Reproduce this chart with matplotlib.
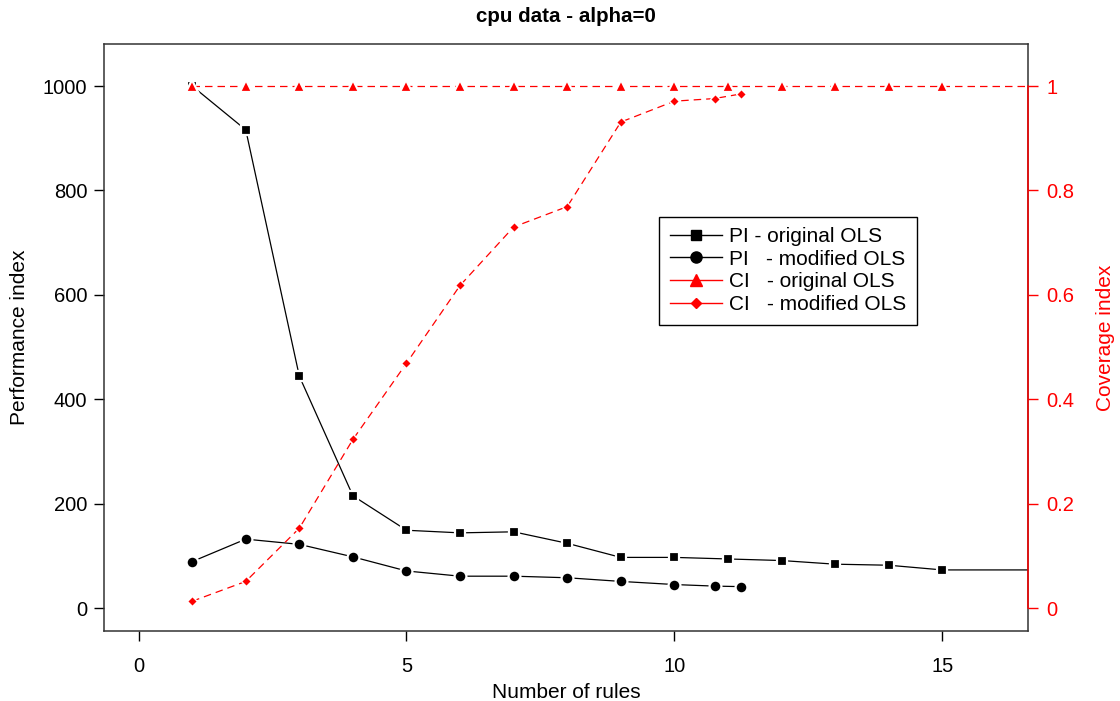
import matplotlib.pyplot as plt
from matplotlib.lines import Line2D

plt.rcParams['font.family'] = ['Liberation Sans', 'DejaVu Sans']

# PI - original OLS (last point lies beyond the visible x range)
x_pi_orig = [1, 2, 3, 4, 5, 6, 7, 8, 9, 10, 11, 12, 13, 14, 15, 20]
pi_orig = [1000, 916, 444, 215, 149, 144, 146, 124, 97, 97, 94, 91, 84, 82, 73, 73]

# PI - modified OLS
x_mod = [1, 2, 3, 4, 5, 6, 7, 8, 9, 10, 10.75, 11.25]
pi_mod = [89, 132, 122, 98, 71, 61, 61, 58, 51, 45, 42, 41]

# CI - original OLS
x_ci_orig = [1, 2, 3, 4, 5, 6, 7, 8, 9, 10, 11, 12, 13, 14, 15, 20]
ci_orig = [1, 1, 1, 1, 1, 1, 1, 1, 1, 1, 1, 1, 1, 1, 1, 1]

# CI - modified OLS
ci_mod = [0.013, 0.051, 0.153, 0.323, 0.469, 0.618, 0.730, 0.769, 0.931, 0.971, 0.976, 0.985]

labels = ['PI - original OLS', 'PI   - modified OLS', 'CI   - original OLS', 'CI   - modified OLS']

fig = plt.figure(figsize=(11.2, 7.01), dpi=100)
ax = fig.add_axes([104 / 1120, 70 / 701, 924 / 1120, 587 / 701])
ax2 = ax.twinx()

dash = (0, (6, 4))
gap = dict(markeredgecolor='white', markeredgewidth=1.6)

ax.plot(x_pi_orig, pi_orig, color='black', lw=0.9, marker='s', ms=7.5,
        markerfacecolor='black', **gap, zorder=3)
ax.plot(x_mod, pi_mod, color='black', lw=0.9, marker='o', ms=8.5,
        markerfacecolor='black', **gap, zorder=3)
ax2.plot(x_ci_orig, ci_orig, color='red', lw=0.9, ls=dash, marker='^', ms=8.5,
         markerfacecolor='red', **gap, zorder=3)
ax2.plot(x_mod, ci_mod, color='red', lw=0.9, ls=dash, marker='D', ms=5.5,
         markerfacecolor='red', markeredgecolor='white', markeredgewidth=1.0, zorder=3)

ax.set_xlim(-0.646, 16.6)
ax.set_ylim(-44, 1080.5)
ax2.set_ylim(-0.044, 1.0805)

ax.set_xticks([0, 5, 10, 15])
ax.set_yticks([0, 200, 400, 600, 800, 1000])
ax2.set_yticks([0, 0.2, 0.4, 0.6, 0.8, 1])
ax2.set_yticklabels(['0', '0.2', '0.4', '0.6', '0.8', '1'])

ax.tick_params(axis='both', labelsize=14.5, length=7, width=1, colors='black', direction='out')
ax.tick_params(axis='x', pad=12)
ax.tick_params(axis='y', pad=5)
ax2.tick_params(axis='y', labelsize=14.5, length=7, width=1, colors='red', direction='out', pad=6)

for s in ax.spines.values():
    s.set_color('#333333')
    s.set_linewidth(1.1)
for name in ['left', 'top', 'bottom']:
    ax2.spines[name].set_visible(False)
ax2.spines['right'].set_color('red')
ax2.spines['right'].set_linewidth(1.1)
ax2.spines['right'].set_bounds(0, 1)

ax.set_xlabel('Number of rules', fontsize=15, labelpad=5)
ax.set_ylabel('Performance index', fontsize=15, labelpad=10)
ax2.set_ylabel('Coverage index', fontsize=15, color='red', labelpad=16)
ax.set_title('cpu data - alpha=0', fontsize=14.8, fontweight='bold', pad=16)

handles = [
    Line2D([], [], color='black', lw=1, marker='s', ms=7, markerfacecolor='black', markeredgecolor='black'),
    Line2D([], [], color='black', lw=1, marker='o', ms=8, markerfacecolor='black', markeredgecolor='black'),
    Line2D([], [], color='red', lw=1, marker='^', ms=8, markerfacecolor='red', markeredgecolor='red'),
    Line2D([], [], color='red', lw=1, marker='D', ms=5, markerfacecolor='red', markeredgecolor='red'),
]
leg = ax2.legend(handles, labels, loc='upper left', bbox_to_anchor=(0.601, 0.706),
                 borderaxespad=0, fontsize=15, frameon=True, fancybox=False,
                 edgecolor='black', framealpha=1, handlelength=2.5,
                 handletextpad=0.35, labelspacing=0.18, borderpad=0.5)
leg.get_frame().set_linewidth(1)

fig.savefig('out.png', dpi=100)
